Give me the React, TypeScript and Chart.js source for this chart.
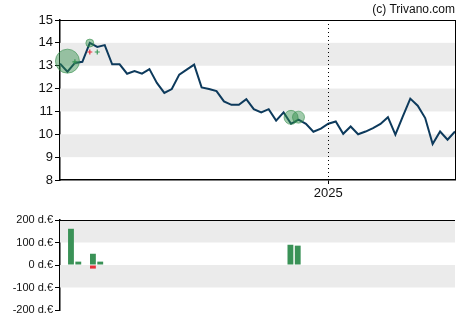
import React, { useEffect, useRef } from 'react';
import { Chart, registerables } from 'chart.js';

Chart.register(...registerables);

// ---- data ----
const startWeek = '2024-04-29';
const weekCount = 54;
const weeks: string[] = (() => {
  const out: string[] = [];
  const d0 = new Date(startWeek + 'T00:00:00Z');
  for (let i = 0; i < weekCount; i++) {
    const d = new Date(d0.getTime() + i * 7 * 86400000);
    out.push(d.toISOString().slice(0, 10));
  }
  return out;
})();

const prices = [
  13.09, 12.74, 13.12, 13.17, 14.0, 13.82, 13.9, 13.06, 13.06, 12.65,
  12.77, 12.65, 12.85, 12.25, 11.81, 11.98, 12.61, 12.83, 13.05, 12.05,
  11.98, 11.89, 11.44, 11.29, 11.29, 11.54, 11.1, 10.96, 11.1, 10.6,
  10.96, 10.46, 10.64, 10.46, 10.11, 10.25, 10.46, 10.56, 10.02, 10.34,
  10.0, 10.12, 10.27, 10.45, 10.75, 9.98, 10.78, 11.56, 11.25, 10.71,
  9.57, 10.12, 9.76, 10.12,
];

const bubbleIdx = [1, 4, 31, 32];
const bubblePrice = [13.2, 13.99, 10.74, 10.75];
const bubbleRadius = [12, 4, 7, 6];

const buySignalIdx = [2, 5];
const buySignalPrice = [13.17, 13.6];
const sellSignalIdx = [4];
const sellSignalPrice = [13.6];

const buyIdx = [1, 2, 4, 5, 31, 32];
const buyVal = [161, 15, 50, 15, 90, 86];
const sellIdx = [4];
const sellVal = [-16];

const priceBands = [[13, 14], [11, 12], [9, 10]];
const volumeBands = [[100, 200], [-100, 0]];

const FONT = "'Liberation Sans', Arial, sans-serif";

const bandsPlugin = {
  id: 'bands',
  beforeDatasetsDraw(chart: any, _a: any, opts: any) {
    const { ctx, chartArea, scales } = chart;
    const y = scales.y;
    ctx.save();
    ctx.fillStyle = '#ebebeb';
    (opts.bands || []).forEach((b: number[]) => {
      const y1 = y.getPixelForValue(b[1]);
      const y0 = y.getPixelForValue(b[0]);
      ctx.fillRect(chartArea.left, y1, chartArea.right - chartArea.left, y0 - y1);
    });
    ctx.restore();
  },
  afterDraw(chart: any, _a: any, opts: any) {
    const { ctx, chartArea, scales } = chart;
    ctx.save();
    ctx.strokeStyle = '#000';
    ctx.lineWidth = 1;
    if (opts.yearIndex != null) {
      const x = Math.round(scales.x.getPixelForValue(opts.yearIndex)) + 0.5;
      ctx.setLineDash([1, 3]);
      ctx.beginPath();
      ctx.moveTo(x, chartArea.top);
      ctx.lineTo(x, chartArea.bottom);
      ctx.stroke();
      ctx.setLineDash([]);
    }
    ctx.beginPath();
    ctx.moveTo(chartArea.left, Math.round(chartArea.top) + 0.5);
    ctx.lineTo(chartArea.right, Math.round(chartArea.top) + 0.5);
    if (opts.rightBorder) {
      ctx.moveTo(Math.round(chartArea.right) + 0.5, chartArea.top);
      ctx.lineTo(Math.round(chartArea.right) + 0.5, chartArea.bottom);
    }
    ctx.stroke();
    ctx.restore();
  },
};

const yearIndex = weeks.findIndex((w, i) => i > 0 && w.slice(0, 4) !== weeks[i - 1].slice(0, 4));

export default function App() {
  const topRef = useRef<HTMLCanvasElement>(null);
  const botRef = useRef<HTMLCanvasElement>(null);

  useEffect(() => {
    const top = new Chart(topRef.current as HTMLCanvasElement, {
      type: 'line',
      data: {
        labels: weeks,
        datasets: [
          {
            type: 'bubble',
            data: bubbleIdx.map((x, i) => ({ x: weeks[x], y: bubblePrice[i], r: bubbleRadius[i] })),
            backgroundColor: 'rgba(46,139,70,0.45)',
            borderColor: 'rgba(46,139,70,0.55)',
            borderWidth: 1,
            order: 0,
          } as any,
          {
            type: 'scatter',
            data: buySignalIdx.map((x, i) => ({ x: weeks[x], y: buySignalPrice[i] })),
            pointStyle: 'cross',
            pointRadius: 2.5,
            borderColor: '#3a9a5a',
            borderWidth: 1.2,
            order: 1,
          } as any,
          {
            type: 'scatter',
            data: sellSignalIdx.map((x, i) => ({ x: weeks[x], y: sellSignalPrice[i] })),
            pointStyle: 'cross',
            pointRadius: 2.5,
            borderColor: '#e8303a',
            borderWidth: 1.2,
            order: 1,
          } as any,
          {
            type: 'line',
            data: prices,
            borderColor: '#0d3a5c',
            borderWidth: 2,
            pointRadius: 0,
            tension: 0,
            order: 2,
          },
        ],
      },
      options: {
        animation: false,
        responsive: false,
        events: [],
        layout: { padding: { top: 20, right: 15, left: 0, bottom: 0 } },
        plugins: {
          legend: { display: false },
          tooltip: { enabled: false },
          bands: { bands: priceBands, yearIndex, rightBorder: true },
        } as any,
        scales: {
          x: {
            type: 'category',
            offset: false,
            afterFit: (s: any) => { s.height = 20; },
            grid: {
              drawOnChartArea: false,
              drawTicks: true,
              tickLength: 4,
              color: (c: any) => (c.index === yearIndex ? '#000' : 'rgba(0,0,0,0)'),
              tickColor: (c: any) => (c.index === yearIndex ? '#000' : 'rgba(0,0,0,0)'),
            },
            border: { display: true, color: '#000', width: 1.5 },
            ticks: {
              autoSkip: false,
              maxRotation: 0,
              padding: 2,
              color: '#111',
              font: { family: FONT, size: 13 },
              callback: (_v: any, i: number) => (i === yearIndex ? weeks[i].slice(0, 4) : ''),
            },
          },
          y: {
            min: 8,
            max: 15,
            afterFit: (s: any) => { s.width = 60; },
            grid: { drawOnChartArea: false, drawTicks: true, tickLength: 5, color: '#000', tickColor: '#000' },
            border: { display: true, color: '#000', width: 1.5 },
            ticks: { stepSize: 1, padding: 2, color: '#111', font: { family: FONT, size: 13 } },
          },
        },
      },
      plugins: [bandsPlugin],
    });

    const bot = new Chart(botRef.current as HTMLCanvasElement, {
      type: 'bar',
      data: {
        labels: weeks,
        datasets: [
          {
            data: buyIdx.map((x, i) => ({ x: weeks[x], y: buyVal[i] })),
            backgroundColor: '#3a9257',
            barPercentage: 0.8,
            categoryPercentage: 1,
          } as any,
          {
            data: sellIdx.map((x, i) => ({ x: weeks[x], y: sellVal[i] })),
            backgroundColor: '#e8303a',
            barPercentage: 0.8,
            categoryPercentage: 1,
          } as any,
        ],
      },
      options: {
        animation: false,
        responsive: false,
        events: [],
        layout: { padding: { top: 20, right: 15, left: 0, bottom: 15 } },
        plugins: {
          legend: { display: false },
          tooltip: { enabled: false },
          bands: { bands: volumeBands, rightBorder: false },
        } as any,
        scales: {
          x: { type: 'category', offset: true, stacked: true, display: false },
          y: {
            min: -200,
            max: 200,
            stacked: true,
            afterFit: (s: any) => { s.width = 60; },
            grid: {
              drawOnChartArea: true,
              drawTicks: true,
              tickLength: 5,
              color: (c: any) => (c.tick && c.tick.value === 0 ? '#000' : 'rgba(0,0,0,0)'),
              tickColor: '#000',
            },
            border: { display: true, color: '#000', width: 1.5 },
            ticks: {
              stepSize: 100,
              padding: 2,
              color: '#111',
              font: { family: FONT, size: 11 },
              callback: (v: any) => `${v} d.€`,
            },
          },
        },
      },
      plugins: [bandsPlugin],
    });

    return () => {
      top.destroy();
      bot.destroy();
    };
  }, []);

  return (
    <div style={{ position: 'fixed', left: 0, top: 0, width: 470, height: 325, background: '#fff' }}>
      <canvas ref={topRef} width={470} height={200} style={{ position: 'absolute', left: 0, top: 0 }} />
      <canvas ref={botRef} width={470} height={125} style={{ position: 'absolute', left: 0, top: 200 }} />
      <div
        style={{
          position: 'absolute',
          right: 15,
          top: 2,
          fontFamily: FONT,
          fontSize: 12,
          color: '#111',
          lineHeight: '14px',
        }}
      >
        (c) Trivano.com
      </div>
    </div>
  );
}
